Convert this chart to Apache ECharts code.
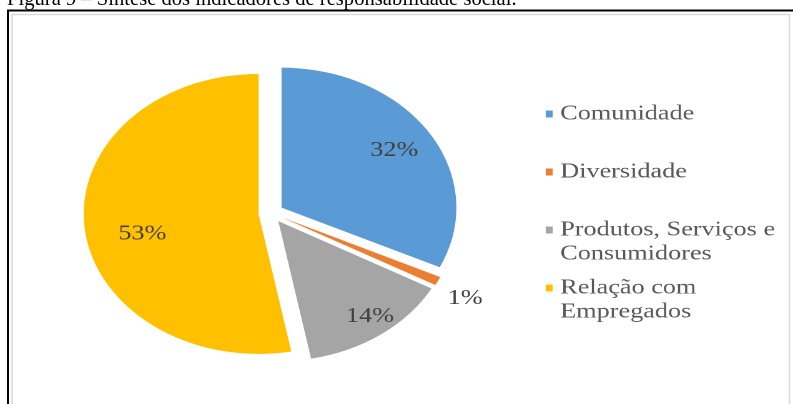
<!DOCTYPE html>
<html><head><meta charset="utf-8">
<script src="https://cdn.jsdelivr.net/npm/echarts@6/dist/echarts.min.js"></script>
<style>
html,body{margin:0;padding:0;background:#fff;overflow:hidden;width:793px;height:404px;}
#frame{position:absolute;left:0;top:0;width:793px;height:404px;}
#pie{position:absolute;left:0;top:0;width:635px;height:404px;transform:scaleX(1.2488);transform-origin:0 0;}
</style></head><body>
<div id="frame"></div><div id="pie"></div>
<script>
// ---- data ----
const titleText = 'Figura 9 – Síntese dos indicadores de responsabilidade social.';
const categories = ['Comunidade', 'Diversidade', 'Produtos, Serviços e Consumidores', 'Relação com Empregados'];
const legendLabels = ['Comunidade\n', 'Diversidade\n', 'Produtos, Serviços e\nConsumidores', 'Relação com\nEmpregados'];
const values = [32, 1, 14, 53];
const colors = ['#5B9BD5', '#ED7D31', '#A5A5A5', '#FFC000'];
const labelInside = [true, false, true, true];

// ---- styling ----
const labelFont = { fontFamily: 'Liberation Serif', fontSize: 21, color: '#404040' };
// fine placement nudges of the data labels: left padding (moves right) and downward shift
const labelPadLeft = [0, 0, 21, 27];
const labelShiftDown = [0, 0, 9, 10];

// ---- frame + caption (unstretched) ----
const frame = echarts.init(document.getElementById('frame'));
frame.setOption({
  backgroundColor: '#fff',
  animation: false,
  title: {
    text: titleText, left: 7, top: -11, padding: 0,
    textStyle: { fontFamily: 'Liberation Serif', fontSize: 20.6, fontWeight: 'normal', color: '#000' }
  },
  graphic: [
    { type: 'rect', shape: { x: 12, y: 14.5, width: 777.5, height: 420 },
      style: { fill: null, stroke: '#d9d9d9', lineWidth: 1.5 } },
    { type: 'polyline', shape: { points: [[8, 420], [8, 10.5], [800, 10.5]] },
      style: { fill: null, stroke: '#000', lineWidth: 2 } }
  ]
});

// ---- pie chart (image is horizontally stretched in the reference) ----
const chart = echarts.init(document.getElementById('pie'), null, { devicePixelRatio: 2 });
const center = [217, 213];
chart.setOption({
  backgroundColor: 'transparent',
  animation: false,
  color: colors,
  legend: {
    orient: 'vertical', left: 437, top: 102, padding: 0,
    itemWidth: 5.6, itemHeight: 48, itemGap: 10,
    icon: 'path://M0,0M5.6,48M0,8.5h5.6v7h-5.6z',
    selectedMode: false,
    data: categories,
    formatter: function (name) { return legendLabels[categories.indexOf(name)]; },
    textStyle: { fontFamily: 'Liberation Serif', fontSize: 21, color: '#595959', lineHeight: 24, padding: [0, 0, 0, 1] }
  },
  series: [
    {
      type: 'pie', name: 'main', center: center, radius: [0, 140],
      startAngle: 90, clockwise: true,
      selectedMode: 'multiple', selectedOffset: 10,
      avoidLabelOverlap: false, silent: true,
      itemStyle: { borderWidth: 0 },
      label: { show: false }, labelLine: { show: false },
      data: categories.map(function (n, i) {
        const d = { name: n, value: values[i], selected: true };
        if (!labelInside[i]) {
          d.label = Object.assign({ show: true, position: 'outside', formatter: '{c}%', distanceToLabelLine: -26 }, labelFont);
          d.labelLine = { show: false, length: 38, length2: 0 };
        }
        return d;
      })
    },
    {
      type: 'pie', name: 'labels', center: center, radius: [92, 116],
      startAngle: 90, clockwise: true,
      selectedMode: 'multiple', selectedOffset: 10,
      avoidLabelOverlap: false, silent: true,
      itemStyle: { color: 'rgba(0,0,0,0)', borderWidth: 0 },
      label: Object.assign({ show: true, position: 'inside', formatter: '{c}%' }, labelFont),
      labelLine: { show: false },
      data: categories.map(function (n, i) {
        const lab = { show: labelInside[i], padding: [0, 0, 0, labelPadLeft[i]] };
        if (labelShiftDown[i] > 0) {
          lab.formatter = '\n{c}%';
          lab.lineHeight = labelShiftDown[i] * 2;
        }
        return { name: n, value: values[i], selected: true, label: lab };
      })
    }
  ]
});
</script>
</body></html>
